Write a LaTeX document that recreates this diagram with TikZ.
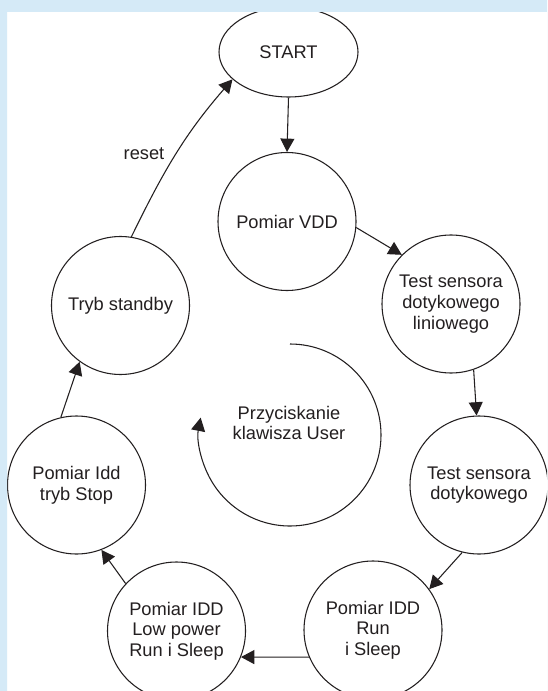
\documentclass[tikz,border=0pt]{standalone}
\usepackage{fontspec}
\setmainfont{Liberation Sans}
\usetikzlibrary{shapes.geometric,arrows.meta}
\definecolor{band}{RGB}{213,234,247}
\definecolor{ink}{RGB}{35,31,32}
\begin{document}
\begin{tikzpicture}[x=0.75pt,y=-0.75pt,
  txt/.style={font=\fontsize{13.7}{15.5}\selectfont,text=ink,align=center},
  state/.style={txt,circle,draw=ink,line width=0.8pt,minimum size=103.5pt,inner sep=0pt},
  startst/.style={txt,ellipse,draw=ink,line width=0.8pt,minimum width=104.25pt,minimum height=67.5pt,inner sep=0pt},
  conn/.style={draw=ink,line width=0.8pt,-{Triangle[length=10pt,width=10.5pt]}}]
\clip (0,0) rectangle (547,691);
\fill[white] (0,0) rectangle (547,691);
% states
\node[startst] (start) at (288.5,52) {START};
\node[state] (vdd)  at (287,221.5) {Pomiar VDD};
\node[state] (lin)  at (451,304) {Test sensora\\dotykowego\\liniowego};
\node[state] (dot)  at (479,485) {Test sensora\\dotykowego};
\node[state] (run)  at (373,630) {Pomiar IDD\\Run\\i Sleep};
\node[state] (low)  at (176.5,631) {Pomiar IDD\\Low power\\Run i Sleep};
\node[state] (stop) at (76.5,485) {Pomiar Idd\\tryb Stop};
\node[state] (stb)  at (120.5,305.5) {Tryb standby};
% centre loop
\node[txt] (press) at (289,423) {Przyciskanie\\klawisza User};
\coordinate (arcs) at (290,344);
\draw[conn] (arcs) arc[start angle=90,end angle=-191,radius=68.25pt];
% connectors
\draw[conn] (start.south) -- (vdd.north);
\draw[conn] (vdd.-5) -- (lin.135);
\draw[conn] (lin.-71) -- (dot.92);
\draw[conn] (dot.-104) -- (run.36);
\draw[conn] (run.203) -- (low.-22);
\draw[conn] (low.137) -- (stop.-69);
\draw[conn] (stop.103) -- (stb.-126);
\draw[conn] (stb.81) to[out=64,in=229] node[txt,pos=0.5,left=5pt] (rst) {reset} (start.206);
% frame band
\fill[band,even odd rule] (0,0) rectangle (547,691) (7,12) rectangle (547,691);
\end{tikzpicture}
\end{document}
